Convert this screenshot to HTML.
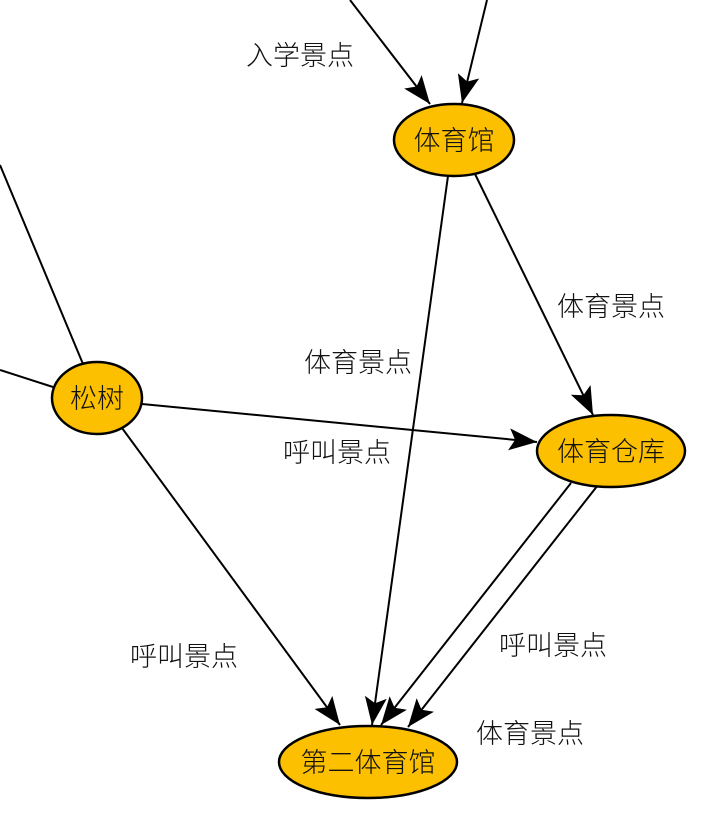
<!DOCTYPE html>
<html><head><meta charset="utf-8"><style>
html,body{margin:0;padding:0;background:#fff;}
svg text{font-family:"Liberation Sans","Noto Sans CJK SC",sans-serif;font-size:27px;font-weight:300;fill:#111;}
</style></head><body>
<svg width="720" height="828" viewBox="0 0 720 828" xmlns="http://www.w3.org/2000/svg">
<defs>
<marker id="b" viewBox="0 0 28 22" refX="28" refY="11" markerWidth="28" markerHeight="22" orient="auto" markerUnits="userSpaceOnUse">
<path d="M0,0 L28,11 L0,22 L6,11 Z" fill="#000"/>
</marker>
</defs>
<g stroke="#000" stroke-width="2" fill="none">
<line x1="350" y1="0" x2="430" y2="104" marker-end="url(#b)"/>
<line x1="487" y1="0" x2="462" y2="103" marker-end="url(#b)"/>
<line x1="448" y1="176" x2="372" y2="725" marker-end="url(#b)"/>
<line x1="474" y1="172" x2="593" y2="415" marker-end="url(#b)"/>
<line x1="0" y1="165" x2="83" y2="364"/>
<line x1="0" y1="370" x2="53" y2="387"/>
<line x1="142" y1="404" x2="537" y2="442" marker-end="url(#b)"/>
<line x1="122" y1="428" x2="340" y2="725" marker-end="url(#b)"/>
<line x1="571" y1="483" x2="381" y2="725" marker-end="url(#b)"/>
<line x1="598" y1="485" x2="408" y2="727" marker-end="url(#b)"/>
</g>
<g fill="#fdc000" stroke="#000" stroke-width="2.5">
<ellipse cx="454" cy="140" rx="60" ry="36"/>
<ellipse cx="97" cy="398" rx="45" ry="36"/>
<ellipse cx="611" cy="451" rx="74" ry="36"/>
<ellipse cx="368" cy="762" rx="89" ry="36"/>
</g>
<g text-anchor="middle">
<text x="454" y="150">体育馆</text>
<text x="97" y="408">松树</text>
<text x="611" y="461">体育仓库</text>
<text x="368" y="772">第二体育馆</text>
<text x="300" y="65">入学景点</text>
<text x="611" y="316">体育景点</text>
<text x="358" y="372">体育景点</text>
<text x="337" y="462">呼叫景点</text>
<text x="184" y="666">呼叫景点</text>
<text x="553" y="655">呼叫景点</text>
<text x="530" y="743">体育景点</text>
</g>
</svg>
</body></html>
